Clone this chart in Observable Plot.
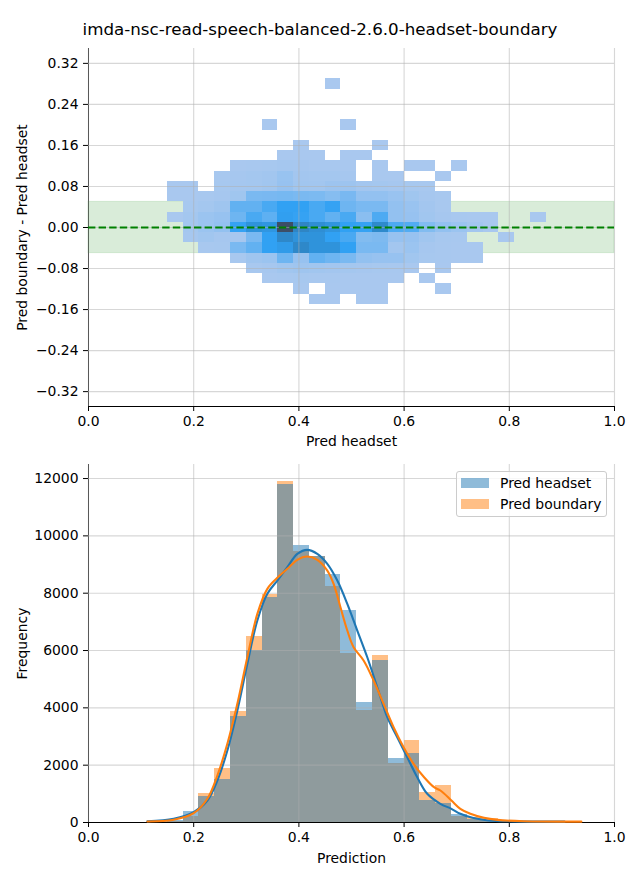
<!DOCTYPE html>
<html>
<head>
<meta charset="utf-8">
<script src="https://cdn.jsdelivr.net/npm/d3@7"></script>
<script src="https://cdn.jsdelivr.net/npm/@observablehq/plot@0.6"></script>
<style>
  body { margin: 0; background: #fff; font-family: "DejaVu Sans", sans-serif; }
  #wrap { position: relative; width: 640px; height: 880px; overflow: hidden; background: #fff; }
  #title { position: absolute; left: 0; top: 0; }
  #top { position: absolute; left: 0; top: 40px; }
  #bottom { position: absolute; left: 0; top: 455px; }
  #legend { position: absolute; left: 456px; top: 471px; width: 151px; height: 46px; box-sizing: border-box;
            border: 1px solid #cccccc; border-radius: 3px; background: rgba(255,255,255,0.8); z-index: 5;
            font-family: "DejaVu Sans", sans-serif; font-size: 13.9px; color: #000; }
  #legend .sw { position: absolute; left: 4px; width: 28px; height: 10px; }
  #legend .lb { position: absolute; left: 43px; line-height: 16px; white-space: nowrap; }
</style>
</head>
<body>
<div id="wrap">
  <svg id="title" width="640" height="40"></svg>
  <div id="top"></div>
  <div id="bottom"></div>
  <div id="legend"></div>
</div>
<script>
// ---------------- data ----------------
const titleText = "imda-nsc-read-speech-balanced-2.6.0-headset-boundary";

// Top panel: 2D histogram of (Pred headset, Pred boundary - Pred headset)
const xEdges = [0.15,0.18,0.21,0.24,0.27,0.30,0.33,0.36,0.39,0.42,0.45,0.48,0.51,0.54,0.57,0.60,0.63,0.66,0.69,0.72,0.75,0.78,0.81,0.84,0.87];
const yEdges = [0.29,0.27,0.25,0.23,0.21,0.19,0.17,0.15,0.13,0.11,0.09,0.07,0.05,0.03,0.01,-0.01,-0.03,-0.05,-0.07,-0.09,-0.11,-0.13,-0.15];
// rows from top (0.28) to bottom (-0.14), 24 columns each
const counts = [
  [0,0,0,0,0,0,0,0,0,0,20,0,0,0,0,0,0,0,0,0,0,0,0,0],
  [0,0,0,0,0,0,0,0,0,0,0,0,0,0,0,0,0,0,0,0,0,0,0,0],
  [0,0,0,0,0,0,0,0,0,0,0,0,0,0,0,0,0,0,0,0,0,0,0,0],
  [0,0,0,0,0,0,0,0,0,0,0,0,0,0,0,0,0,0,0,0,0,0,0,0],
  [0,0,0,0,0,0,20,0,0,0,0,20,0,0,0,0,0,0,0,0,0,0,0,0],
  [0,0,0,0,0,0,0,0,0,0,0,0,0,0,0,0,0,0,0,0,0,0,0,0],
  [0,0,0,0,0,0,0,0,20,0,0,0,0,20,0,0,0,0,0,0,0,0,0,0],
  [0,0,0,0,0,0,0,20,30,20,0,20,20,0,0,0,0,0,0,0,0,0,0,0],
  [0,0,0,0,30,40,50,70,60,40,40,30,0,20,0,20,20,0,20,0,0,0,0,0],
  [0,0,0,40,60,80,110,230,100,90,80,60,0,30,20,0,0,20,0,0,0,0,0,0],
  [30,30,0,50,70,90,120,250,120,110,170,170,100,90,60,50,40,0,0,0,0,0,0,0],
  [30,30,40,60,130,600,620,650,600,580,450,620,300,300,220,130,60,40,0,0,0,0,0,0],
  [0,50,80,150,900,900,1200,1500,1500,1200,1450,750,600,600,300,220,100,40,0,0,0,0,0,0],
  [30,80,200,250,750,1200,950,1550,1450,1200,900,1200,400,1150,300,250,120,60,40,30,30,0,0,20],
  [0,80,200,300,1450,1950,1850,3300,2350,2100,1900,1500,1450,2250,1150,1100,500,300,200,100,30,0,0,0],
  [0,60,120,60,60,600,1500,2300,1950,1950,1500,1200,500,550,250,250,120,50,40,0,0,20,0,0],
  [0,0,40,50,600,900,1500,1700,2300,1950,1950,1500,600,600,100,200,60,40,30,20,0,0,0,0],
  [0,0,0,0,40,150,200,750,250,900,750,600,300,250,250,120,50,40,30,20,0,0,0,0],
  [0,0,0,0,0,40,60,120,150,120,100,80,60,50,40,30,0,20,0,0,0,0,0,0],
  [0,0,0,0,0,0,30,40,50,40,40,30,30,30,20,0,20,0,0,0,0,0,0,0],
  [0,0,0,0,0,0,0,0,20,0,30,30,20,20,0,0,0,20,0,0,0,0,0,0],
  [0,0,0,0,0,0,0,0,0,20,20,0,20,20,0,0,0,0,0,0,0,0,0,0]
];
const colorStops = [0, 1500, 2300, 3300];
const colorRange = ["#abc9ef", "#31a1f3", "#2e88c9", "#3d4e66"];
const toleranceBand = [[-0.05, 0.05]];
const refLine = [0];
const topXTicks = [0, 0.2, 0.4, 0.6, 0.8, 1.0];
const topYTicks = [-0.32, -0.24, -0.16, -0.08, 0, 0.08, 0.16, 0.24, 0.32];

// Bottom panel: histograms + KDE
const histEdges = [0.12,0.15,0.18,0.21,0.24,0.27,0.30,0.33,0.36,0.39,0.42,0.45,0.48,0.51,0.54,0.57,0.60,0.63,0.66,0.69,0.72,0.75,0.78,0.81,0.84,0.87,0.90,0.93];
const headsetCounts  = [20,60,395,920,1500,3700,6000,7860,11790,9660,9290,8650,7395,4185,5650,2230,2395,770,675,280,120,60,30,20,15,10,0];
const boundaryCounts = [15,40,220,1000,1895,3885,6500,7965,11895,9450,9270,8245,5905,3905,5825,2045,2860,1045,1290,200,180,150,40,25,20,15,15];
const kdeHeadsetX = [0.112,0.162,0.200,0.226,0.245,0.264,0.283,0.302,0.321,0.340,0.359,0.378,0.397,0.416,0.435,0.454,0.473,0.492,0.511,0.530,0.549,0.568,0.587,0.606,0.625,0.644,0.669,0.690,0.707,0.730,0.760,0.808,0.905];
const kdeHeadsetY = [45,129,359,767,1465,2512,3907,5536,7046,7978,8442,8906,9373,9513,9373,9024,8442,7629,6698,5766,4720,3673,2976,2278,1580,1001,652,477,303,163,70,40,30];
const kdeBoundaryX = [0.112,0.162,0.200,0.226,0.245,0.264,0.283,0.302,0.321,0.340,0.359,0.378,0.397,0.416,0.435,0.454,0.466,0.479,0.492,0.504,0.523,0.542,0.561,0.580,0.599,0.618,0.638,0.657,0.669,0.690,0.707,0.726,0.752,0.777,0.827,0.937];
const kdeBoundaryY = [35,94,324,827,1640,2745,4141,5766,7280,8152,8536,8850,9164,9279,9164,8790,8327,7510,6698,6115,5651,4953,4141,3324,2627,2048,1580,1231,1116,767,477,303,163,93,45,30];
const seriesNames = ["Pred headset", "Pred boundary"];
const seriesColors = ["#1f77b4", "#ff7f0e"];
const bottomXTicks = [0, 0.2, 0.4, 0.6, 0.8, 1.0];
const bottomYTicks = [0, 2000, 4000, 6000, 8000, 10000, 12000];

// ---------------- build ----------------
const FONT = "DejaVu Sans, sans-serif";
const gridStyle = {stroke: "#b0b0b0", strokeOpacity: 0.5, strokeWidth: 1.1};

const cells = [];
counts.forEach((row, r) => row.forEach((c, i) => {
  if (c > 0) cells.push({x1: xEdges[i], x2: xEdges[i + 1], y1: yEdges[r + 1], y2: yEdges[r], count: c});
}));

// Title
{
  const svg = d3.select("#title");
  svg.append("text").attr("x", 320).attr("y", 35).attr("text-anchor", "middle")
    .attr("font-family", FONT).attr("font-size", "16.7px").attr("fill", "#000").text(titleText);
}

const topPlot = Plot.plot({
  width: 640, height: 415,
  marginTop: 8, marginBottom: 49, marginLeft: 88, marginRight: 26,
  style: {fontFamily: FONT, fontSize: "13.9px", background: "transparent", color: "#000", overflow: "visible"},
  x: {domain: [0, 1], ticks: topXTicks, tickFormat: ".1f", tickSize: 5, tickPadding: 5, line: true,
      label: "Pred headset", labelAnchor: "center", labelArrow: "none", labelOffset: 39},
  y: {domain: [-0.349, 0.349], ticks: topYTicks, tickFormat: ".2f", tickSize: 5, tickPadding: 5, line: true,
      label: "Pred boundary - Pred headset", labelAnchor: "center", labelArrow: "none", labelOffset: 71},
  color: {type: "linear", domain: colorStops, range: colorRange},
  marks: [
    Plot.rect(toleranceBand, {y1: d => d[0], y2: d => d[1], fill: "green", fillOpacity: 0.15, stroke: "green", strokeOpacity: 0.12}),
    Plot.rect(cells, {x1: "x1", x2: "x2", y1: "y1", y2: "y2", fill: "count", shapeRendering: "crispEdges"}),
    Plot.ruleX(topXTicks, gridStyle),
    Plot.ruleY(topYTicks, gridStyle),
    Plot.ruleY(refLine, {stroke: "green", strokeWidth: 2, strokeDasharray: "7.4,3.2"})
  ]
});
document.getElementById("top").appendChild(topPlot);

const orangeBars = boundaryCounts.map((c, i) => ({x1: histEdges[i], x2: histEdges[i + 1], y: c})).filter(d => d.y > 0);
const blueBars = headsetCounts.map((c, i) => ({x1: histEdges[i], x2: histEdges[i + 1], y: c})).filter(d => d.y > 0);
const kdeHeadset = kdeHeadsetX.map((x, i) => ({x, y: kdeHeadsetY[i]}));
const kdeBoundary = kdeBoundaryX.map((x, i) => ({x, y: kdeBoundaryY[i]}));

const bottomPlot = Plot.plot({
  width: 640, height: 425,
  marginTop: 9, marginBottom: 58, marginLeft: 88, marginRight: 26,
  style: {fontFamily: FONT, fontSize: "13.9px", background: "transparent", color: "#000", overflow: "visible"},
  x: {domain: [0, 1], ticks: bottomXTicks, tickFormat: ".1f", tickSize: 5, tickPadding: 5, line: true,
      label: "Prediction", labelAnchor: "center", labelArrow: "none", labelOffset: 40},
  y: {domain: [0, 12490], ticks: bottomYTicks, tickFormat: "d", tickSize: 5, tickPadding: 5, line: true,
      label: "Frequency", labelAnchor: "center", labelArrow: "none", labelOffset: 71},
  marks: [
    Plot.rectY(orangeBars, {x1: "x1", x2: "x2", y: "y", fill: seriesColors[1], fillOpacity: 0.5, shapeRendering: "crispEdges"}),
    Plot.rectY(blueBars, {x1: "x1", x2: "x2", y: "y", fill: seriesColors[0], fillOpacity: 0.5, shapeRendering: "crispEdges"}),
    Plot.ruleX(bottomXTicks, gridStyle),
    Plot.ruleY(bottomYTicks.filter(t => t > 0), gridStyle),
    Plot.line(kdeHeadset, {x: "x", y: "y", stroke: seriesColors[0], strokeWidth: 2.1, curve: "catmull-rom"}),
    Plot.line(kdeBoundary, {x: "x", y: "y", stroke: seriesColors[1], strokeWidth: 2.1, curve: "catmull-rom"})
  ]
});
document.getElementById("bottom").appendChild(bottomPlot);

// Legend
{
  const lg = document.getElementById("legend");
  const rows = [{top: 6, text: 3}, {top: 27, text: 24}];
  seriesNames.forEach((name, i) => {
    const sw = document.createElement("div");
    sw.className = "sw";
    sw.style.top = rows[i].top + "px";
    sw.style.background = seriesColors[i];
    sw.style.opacity = 0.5;
    lg.appendChild(sw);
    const lb = document.createElement("div");
    lb.className = "lb";
    lb.style.top = rows[i].text + "px";
    lb.textContent = name;
    lg.appendChild(lb);
  });
}
</script>
</body>
</html>
